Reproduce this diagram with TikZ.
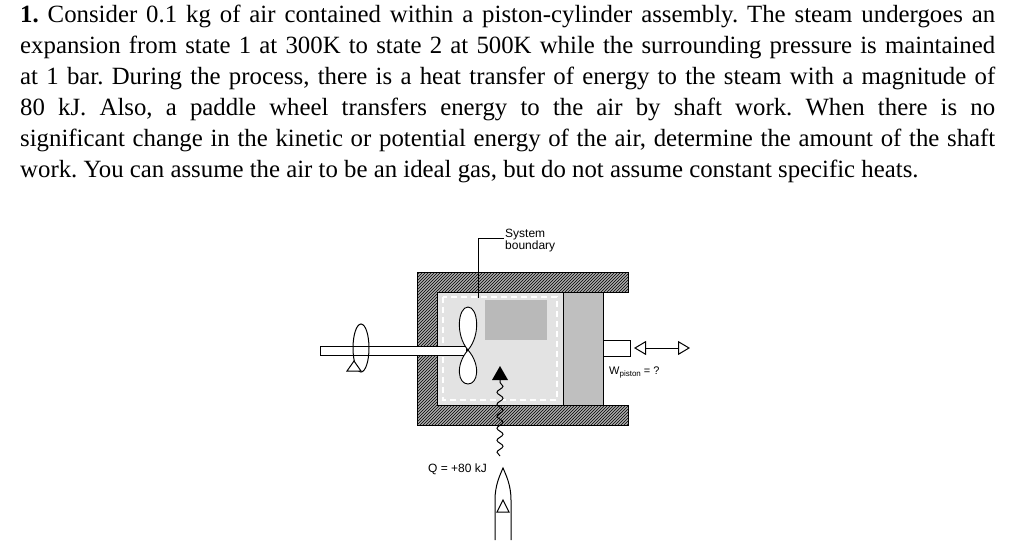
\documentclass[tikz,border=0pt]{standalone}
\usepackage{fontspec}
\setmainfont{Liberation Serif}
\newfontfamily\hel{Liberation Sans}
\usetikzlibrary{patterns,decorations.pathmorphing,arrows.meta}
\begin{document}
\begin{tikzpicture}[x=1pt,y=-1pt,
  wall/.style={fill=gray!65,draw=black,line width=1pt},
  hatch/.style={pattern=north east lines,pattern color=black},
  lbl/.style={font=\hel\fontsize{11}{11}\selectfont,inner sep=1pt}]
\useasboundingbox (0,0) rectangle (1024,554);
\node[anchor=north west,inner sep=0pt,text width=975pt,align=justify,font=\frenchspacing\fontsize{24.8}{31}\selectfont] (txt) at (20,5)
{\textbf{1.} Consider 0.1 kg of air contained within a piston-cylinder assembly. The steam undergoes an\linebreak
expansion from state 1 at 300K to state 2 at 500K while the surrounding pressure is maintained\linebreak
at 1 bar. During the process, there is a heat transfer of energy to the steam with a magnitude of\linebreak
80 kJ. Also, a paddle wheel transfers energy to the air by shaft work. When there is no\linebreak
significant change in the kinetic or potential energy of the air, determine the amount of the shaft\linebreak
work. You can assume the air to be an ideal gas, but do not assume constant specific heats.};
% cylinder
\path[wall] (628,272) -- (417,272) -- (417,425) -- (628,425) -- (628,405) -- (437,405) -- (437,292) -- (628,292) -- cycle;
\path[hatch] (628,272) -- (417,272) -- (417,425) -- (628,425) -- (628,405) -- (437,405) -- (437,292) -- (628,292) -- cycle;
% gas
\node[draw=black,fill=gray!22,minimum width=126pt,minimum height=113pt,inner sep=0pt,anchor=north west] (gas) at (437,292) {};
\node[fill=gray!55,minimum width=62pt,minimum height=40pt,inner sep=0pt,anchor=north west] (dark) at (485,300) {};
\draw[white,dashed,line width=1.2pt,dash pattern=on 6pt off 4pt] (443,297) rectangle (557,400);
% piston
\node[draw=black,line width=1pt,fill=gray!50,minimum width=40pt,minimum height=113pt,inner sep=0pt,anchor=north west] (piston) at (563,292) {};
\node[draw=black,fill=white,minimum width=27pt,minimum height=16pt,inner sep=0pt,anchor=west] (rod) at (603,348) {};
\coordinate (wa) at (634,348); \coordinate (wb) at (690,348);
\draw[line width=1pt,{Triangle[open,length=12pt,width=14pt]}-{Triangle[open,length=12pt,width=14pt]}] (wa) -- (wb);
\node[lbl,anchor=west] (wlab) at (608,372) {W\raisebox{-2pt}{\footnotesize piston} = ?};
% shaft
\draw[fill=white,line width=0.9pt] (320,346) rectangle (466,355);
\draw[line width=0.9pt,fill=white] (468,350) .. controls (455,335) and (458,307) .. (468,307) .. controls (478,307) and (481,335) .. (468,350)
  .. controls (455,365) and (458,384) .. (468,384) .. controls (478,384) and (481,365) .. (468,350);
\draw[line width=1pt] (361,348) ellipse (8pt and 24pt);
\draw[line width=1pt,fill=white] (354,361) -- (347,371) -- (361,371) -- cycle;
% system boundary
\node[lbl,align=left,anchor=north west,font=\hel\fontsize{12}{11}\selectfont] (sys) at (504,228) {System\\boundary};
\draw[line width=0.8pt] ([yshift=2pt]sys.west) -| (478,298);
% heat
\coordinate (hq) at (500,456);
\draw[line width=1pt,decorate,decoration={snake,amplitude=3pt,segment length=12pt}] (hq) -- (500,380);
\fill (500,366) -- (492,380) -- (508,380) -- cycle;
\draw[line width=1pt] (495,540) -- (495,500) .. controls (495,485) and (500,475) .. (503,468) .. controls (506,475) and (511,485) .. (511,500) -- (511,540);
\draw[line width=1pt] (503,500) -- (497,512) -- (509,512) -- cycle;
\node[lbl,anchor=east,font=\hel\fontsize{12}{12}\selectfont] (qlab) at (488,469) {Q = +80 kJ};
\end{tikzpicture}
\end{document}
